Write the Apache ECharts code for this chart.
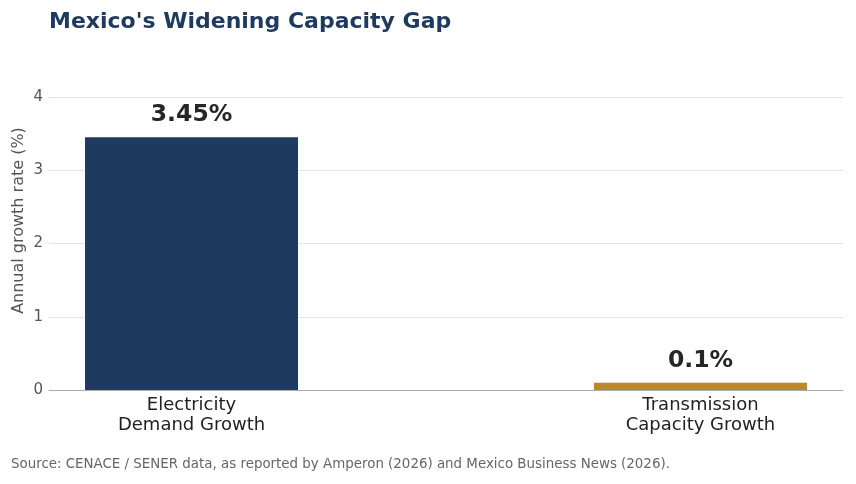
<!DOCTYPE html>
<html>
<head>
<meta charset="utf-8">
<script src="https://cdn.jsdelivr.net/npm/echarts@6/dist/echarts.min.js"></script>
<style>
  html, body { margin: 0; padding: 0; background: #fff; }
  #chart { width: 856px; height: 484px; }
</style>
</head>
<body>
<div id="chart"></div>
<script>
// data
var categories = ['Electricity\nDemand Growth', 'Transmission\nCapacity Growth'];
var growthValues = [3.45, 0.1];
var barColors = ['#1f3a5f', '#c0862a'];
var yTicks = [0, 1, 2, 3, 4];

var FONT = 'DejaVu Sans';

var chart = echarts.init(document.getElementById('chart'));

var option = {
    backgroundColor: '#fff',
    textStyle: { fontFamily: FONT },
    title: {
        text: "Mexico's Widening Capacity Gap",
        left: 44, top: 6,
        textStyle: { fontFamily: FONT, fontSize: 22, fontWeight: 'bold', color: '#1f3a5f' }
    },
    graphic: [{
        type: 'text', left: 11, top: 458,
        style: {
            text: 'Source: CENACE / SENER data, as reported by Amperon (2026) and Mexico Business News (2026).',
            font: '13.4px "DejaVu Sans"', fill: '#666'
        }
    }],
    grid: { left: 49, right: 13, top: 97, bottom: 94, outerBoundsMode: 'none', containLabel: false },
    xAxis: {
        type: 'value',
        min: -0.28, max: 1.28,
        splitLine: { show: false },
        axisTick: { show: false },
        axisLine: { show: true, onZero: false, lineStyle: { color: '#aaa', width: 1 } },
        axisLabel: {
            customValues: [0, 1],
            formatter: function (v) { return categories[Math.round(v)] || ''; },
            fontFamily: FONT, fontSize: 18, color: '#222', lineHeight: 20, margin: 5
        }
    },
    yAxis: {
        type: 'value',
        min: yTicks[0], max: yTicks[yTicks.length - 1], interval: 1,
        name: 'Annual growth rate (%)',
        nameLocation: 'middle', nameGap: 22, nameMoveOverlap: false,
        nameTextStyle: { fontFamily: FONT, fontSize: 16, color: '#555', padding: [0, 0, 0, 46] },
        axisLine: { show: false },
        axisTick: { show: false },
        axisLabel: { fontFamily: FONT, fontSize: 15, color: '#555', margin: 6 },
        splitLine: { lineStyle: { color: '#e3e3e3', width: 1 } }
    },
    series: [{
        type: 'bar',
        barWidth: 213,
        data: growthValues.map(function (v, i) {
            return { value: [i, v], itemStyle: { color: barColors[i] } };
        }),
        label: {
            show: true, position: 'top', distance: 10,
            formatter: function (p) { return p.value[1] + '%'; },
            fontFamily: FONT, fontSize: 23.5, fontWeight: 'bold', color: '#262626'
        },
        silent: true
    }]
};

chart.setOption(option);
</script>
</body>
</html>
